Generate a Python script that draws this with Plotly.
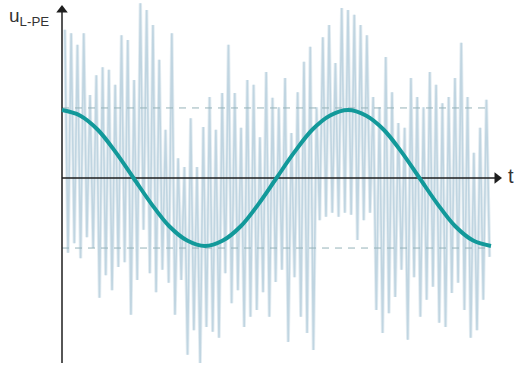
import numpy as np
import plotly.graph_objects as go

# ---- data (time in ms, voltage in units of the fundamental's amplitude) ----
period_ms = 20.0
t_end = 30.0

# fundamental (every 1.25 ms)
cos_t = [0, 1.25, 2.5, 3.75, 5, 6.25, 7.5, 8.75, 10, 11.25, 12.5, 13.75, 15,
         16.25, 17.5, 18.75, 20, 21.25, 22.5, 23.75, 25, 26.25, 27.5, 28.75, 30]
cos_u = [1.0, 0.92, 0.71, 0.38, 0.0, -0.38, -0.71, -0.92, -1.0, -0.92, -0.71, -0.38, 0.0,
         0.38, 0.71, 0.92, 1.0, 0.92, 0.71, 0.38, 0.0, -0.38, -0.71, -0.92, -1.0]

# switching spikes: upper peaks and lower troughs
peak_u = [2.18, 2.13, 1.96, 2.13, 1.22, 1.51, 1.63, 1.59, 1.37, 2.10, 2.03, 1.44,
          2.57, 2.47, 2.25, 1.74, 0.71, 2.13, 0.29, 0.16, 0.88, 0.16, 0.75, 1.19,
          0.71, 1.25, 1.96, 1.25, 0.74, 1.44, 1.37, 0.60, 1.56, 1.18, 1.04, 1.47,
          0.66, 1.26, 1.71, 1.93, 1.04, 2.07, 2.25, 1.69, 2.50, 2.47, 2.40, 2.25,
          2.10, 1.19, 1.04, 1.78, 1.26, 0.81, 0.74, 1.47, 1.19, 1.04, 1.56, 1.37,
          1.10, 1.19, 1.47, 1.99, 1.19, 0.37, 0.74, 1.15]
trough_u = [-1.10, -0.96, -1.18, -0.87, -1.03, -1.76, -1.43, -1.65, -1.31, -1.24, -2.01, -1.50,
            -0.76, -1.40, -1.68, -1.35, -1.54, -2.01, -1.50, -2.60, -2.24, -2.72, -2.19, -2.26,
            -2.35, -1.40, -1.84, -1.65, -2.19, -2.04, -1.94, -1.68, -2.04, -1.53, -1.35, -2.41,
            -1.46, -2.04, -2.28, -2.53, -0.62, -0.57, -0.51, -0.57, -0.51, -0.54, -0.91, -0.62,
            -0.51, -1.94, -2.28, -1.99, -1.75, -1.35, -2.38, -1.46, -2.04, -1.79, -1.60, -2.13,
            -2.19, -1.69, -1.54, -1.94, -2.35, -2.24, -1.79, -1.16]
spike_step_ms = 0.44
peak_t0 = 0.2
trough_t0 = 0.42

ref_level = 1.03  # dashed reference lines (+/-)

axis_label_y = "u<sub>L-PE</sub>"
axis_label_x = "t"

# ---- build ----
n = len(peak_u)
peak_t = peak_t0 + spike_step_ms * np.arange(n)
trough_t = trough_t0 + spike_step_ms * np.arange(n)
sx, sy = [], []
for a, b, c, d in zip(peak_t, peak_u, trough_t, trough_u):
    sx += [a, c]
    sy += [b, d]

px_per_ms = 286 / period_ms
px_per_u = 68.0
x_range = [-62 / px_per_ms, (524 - 62) / px_per_ms]
y_range = [(178 - 368) / px_per_u, 178 / px_per_u]

AX = "#1e1e1e"
fig = go.Figure()
# pale halo under the spikes
fig.add_trace(go.Scatter(x=sx, y=sy, mode="lines",
                         line=dict(color="#e4edf2", width=3.4), hoverinfo="skip"))
fig.add_trace(go.Scatter(x=sx, y=sy, mode="lines",
                         line=dict(color="#c0d5e1", width=1.6), hoverinfo="skip"))
for lv in (ref_level, -ref_level):
    fig.add_trace(go.Scatter(x=[0, t_end], y=[lv, lv], mode="lines",
                             line=dict(color="#95b2b8", width=1, dash="7px,6px"),
                             hoverinfo="skip"))
# axes lines
x_tip = (497 - 62) / px_per_ms
y_tip = (178 - 10) / px_per_u
y_bot = (178 - 363) / px_per_u
fig.add_trace(go.Scatter(x=[0, x_tip], y=[0, 0], mode="lines",
                         line=dict(color=AX, width=1.5), hoverinfo="skip"))
fig.add_trace(go.Scatter(x=[0, 0], y=[y_bot, y_tip], mode="lines",
                         line=dict(color=AX, width=1.5), hoverinfo="skip"))
# arrowheads
fig.add_trace(go.Scatter(x=[x_tip], y=[0], mode="markers", hoverinfo="skip",
                         marker=dict(symbol="triangle-right", size=10, color=AX,
                                     line=dict(width=0))))
fig.add_trace(go.Scatter(x=[0], y=[y_tip], mode="markers", hoverinfo="skip",
                         marker=dict(symbol="triangle-up", size=10, color=AX,
                                     line=dict(width=0))))
fig.add_trace(go.Scatter(x=cos_t, y=cos_u, mode="lines", line_shape="spline",
                         line=dict(color="#12999a", width=4), hoverinfo="skip"))

# labels
fig.add_annotation(x=(511 - 62) / px_per_ms, y=0.03, xref="x", yref="y",
                   text=axis_label_x, showarrow=False, xanchor="center", yanchor="middle",
                   font=dict(family="Liberation Sans, Arial", size=20, color="#333333"))
fig.add_annotation(x=(7 - 62) / px_per_ms, y=(178 - 17) / px_per_u, xref="x", yref="y",
                   text=axis_label_y, showarrow=False, xanchor="left", yanchor="middle",
                   font=dict(family="Liberation Sans, Arial", size=19, color="#333333"))

fig.update_layout(
    width=524, height=368, margin=dict(l=0, r=0, t=0, b=0),
    paper_bgcolor="white", plot_bgcolor="white", showlegend=False,
    xaxis=dict(range=x_range, visible=False, fixedrange=True),
    yaxis=dict(range=y_range, visible=False, fixedrange=True),
)
fig.write_html("out.html", config={"displayModeBar": False},
               post_script="document.body.style.margin='0';")
